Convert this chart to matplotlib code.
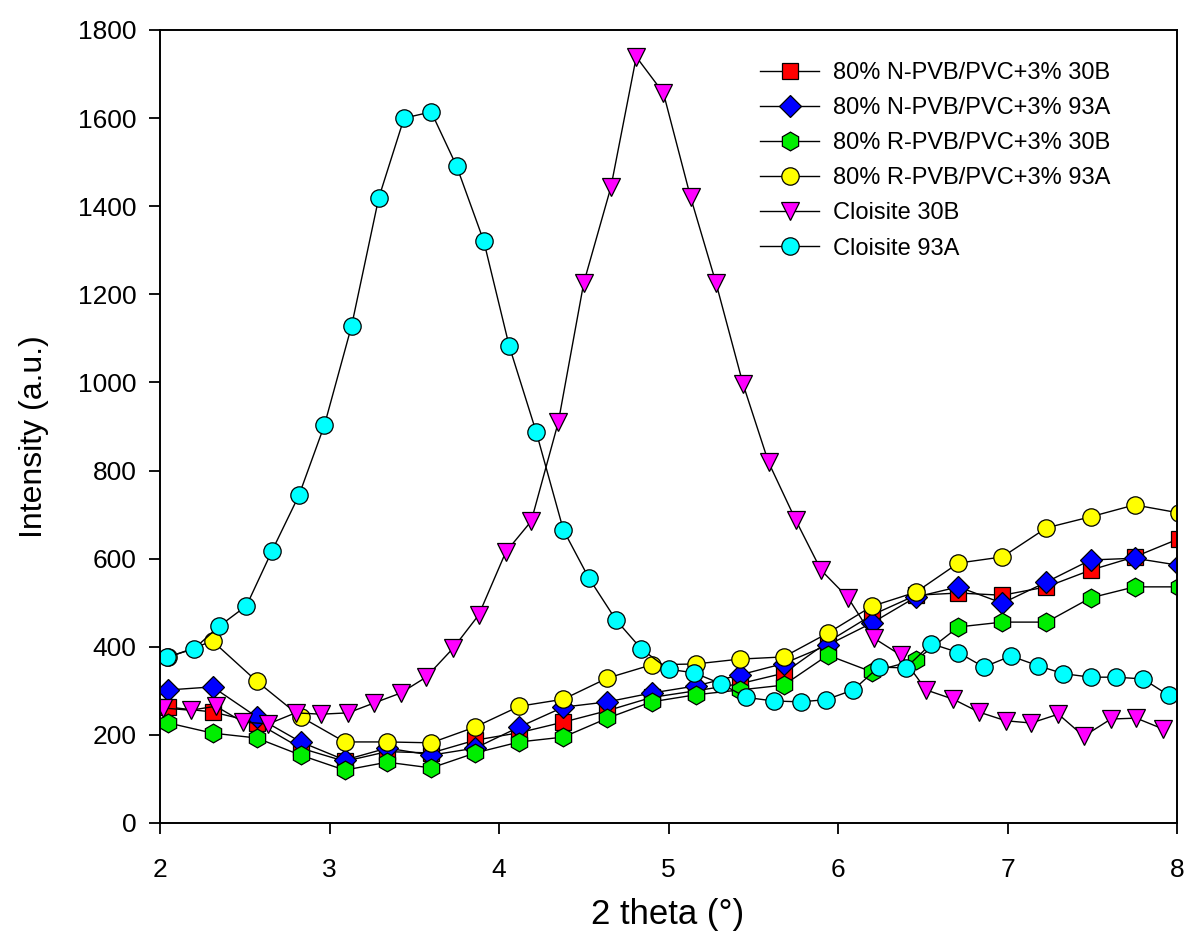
import matplotlib
matplotlib.use("Agg")
import matplotlib.pyplot as plt

plt.rcParams['font.family'] = ['Liberation Sans', 'DejaVu Sans']

# ---- data ----
poly_x = [2.05, 2.31, 2.57, 2.83, 3.09, 3.34, 3.60, 3.86, 4.12, 4.38, 4.64, 4.90,
          5.16, 5.42, 5.68, 5.94, 6.20, 6.46, 6.71, 6.97, 7.23, 7.49, 7.75, 8.01]

n_pvb_30b = [263, 252, 228, 170, 140, 162, 159, 188, 205, 229, 255, 285,
             300, 316, 340, 411, 472, 517, 522, 517, 536, 574, 604, 645]
n_pvb_93a = [302, 309, 241, 184, 143, 170, 154, 170, 218, 263, 275, 295,
             311, 336, 362, 404, 454, 513, 536, 499, 547, 597, 601, 585]
r_pvb_30b = [227, 204, 193, 154, 120, 138, 125, 159, 184, 195, 238, 275,
             291, 302, 313, 381, 343, 370, 445, 456, 456, 511, 536, 536]
r_pvb_93a = [376, 413, 322, 241, 184, 184, 182, 218, 265, 281, 329, 359,
             361, 372, 377, 431, 492, 524, 590, 604, 670, 695, 722, 704]

c30b_x = [2.02, 2.18, 2.33, 2.49, 2.64, 2.80, 2.95, 3.11, 3.26, 3.42, 3.57, 3.73,
          3.88, 4.04, 4.19, 4.35, 4.50, 4.66, 4.81, 4.97, 5.13, 5.28, 5.44, 5.59,
          5.75, 5.90, 6.06, 6.21, 6.37, 6.52, 6.68, 6.83, 6.99, 7.14, 7.30, 7.45,
          7.61, 7.76, 7.92]
c30b_y = [261, 256, 265, 229, 225, 250, 247, 250, 272, 295, 331, 397,
          472, 615, 685, 910, 1226, 1443, 1739, 1657, 1421, 1226, 996, 819,
          688, 574, 511, 420, 381, 302, 281, 252, 232, 227, 247, 197,
          236, 238, 213]

c93a_x = [2.04, 2.20, 2.35, 2.51, 2.66, 2.82, 2.97, 3.13, 3.29, 3.44, 3.60, 3.75,
          3.91, 4.06, 4.22, 4.38, 4.53, 4.69, 4.84, 5.00, 5.15, 5.31, 5.46, 5.62,
          5.78, 5.93, 6.09, 6.24, 6.40, 6.55, 6.71, 6.86, 7.02, 7.18, 7.33, 7.49,
          7.64, 7.80, 7.95]
c93a_y = [377, 395, 447, 493, 617, 744, 903, 1128, 1418, 1600, 1614, 1491,
          1321, 1083, 887, 665, 556, 461, 395, 349, 341, 316, 285, 277,
          275, 280, 302, 354, 352, 407, 387, 354, 379, 357, 339, 331,
          331, 327, 290]

labels = ["80% N-PVB/PVC+3% 30B", "80% N-PVB/PVC+3% 93A",
          "80% R-PVB/PVC+3% 30B", "80% R-PVB/PVC+3% 93A",
          "Cloisite 30B", "Cloisite 93A"]
colors = ["#ff0000", "#0000ff", "#00ee00", "#ffff00", "#ff00ff", "#00ffff"]
markers = ["s", "D", "h", "o", "v", "o"]
sizes = [12, 11.5, 13.5, 12.5, 13.5, 12.5]

xticks = [2, 3, 4, 5, 6, 7, 8]
yticks = [0, 200, 400, 600, 800, 1000, 1200, 1400, 1600, 1800]

# ---- figure ----
W, H = 1188, 944
fig = plt.figure(figsize=(W / 100, H / 100), dpi=100)
L, R, B, T = 160, 1177, 823, 30
ax = fig.add_axes([L / W, 1 - B / H, (R - L) / W, (B - T) / H])

series = [(poly_x, n_pvb_30b), (poly_x, n_pvb_93a), (poly_x, r_pvb_30b),
          (poly_x, r_pvb_93a), (c30b_x, c30b_y), (c93a_x, c93a_y)]
for (xs, ys), lab, col, mk, ms in zip(series, labels, colors, markers, sizes):
    ax.plot(xs, ys, color="black", linewidth=1.0, marker=mk, markersize=ms,
            markerfacecolor=col, markeredgecolor="black", markeredgewidth=0.9,
            label=lab)

ax.set_xlim(2, 8)
ax.set_ylim(0, 1800)
ax.set_xticks(xticks)
ax.set_yticks(yticks)
ax.tick_params(axis='both', direction='out', length=8, width=1.3, labelsize=19)
ax.tick_params(axis='x', pad=17)
ax.tick_params(axis='y', pad=9)
for sp in ax.spines.values():
    sp.set_linewidth(1.4)

ax.set_xlabel("2 theta (°)", fontsize=25)
ax.set_ylabel("Intensity (a.u.)", fontsize=23)
ax.xaxis.set_label_coords((668 - L) / (R - L), (B - 898) / (B - T))
ax.yaxis.set_label_coords((49 - L) / (R - L), (B - 437) / (B - T))

leg = ax.legend(loc="upper left", bbox_to_anchor=(760 / W, 1 - 62 / H),
                bbox_transform=fig.transFigure, frameon=False, fontsize=17,
                handlelength=2.5, handletextpad=0.6, labelspacing=0.555,
                borderaxespad=0, borderpad=0)

fig.savefig("out.png", dpi=100)
